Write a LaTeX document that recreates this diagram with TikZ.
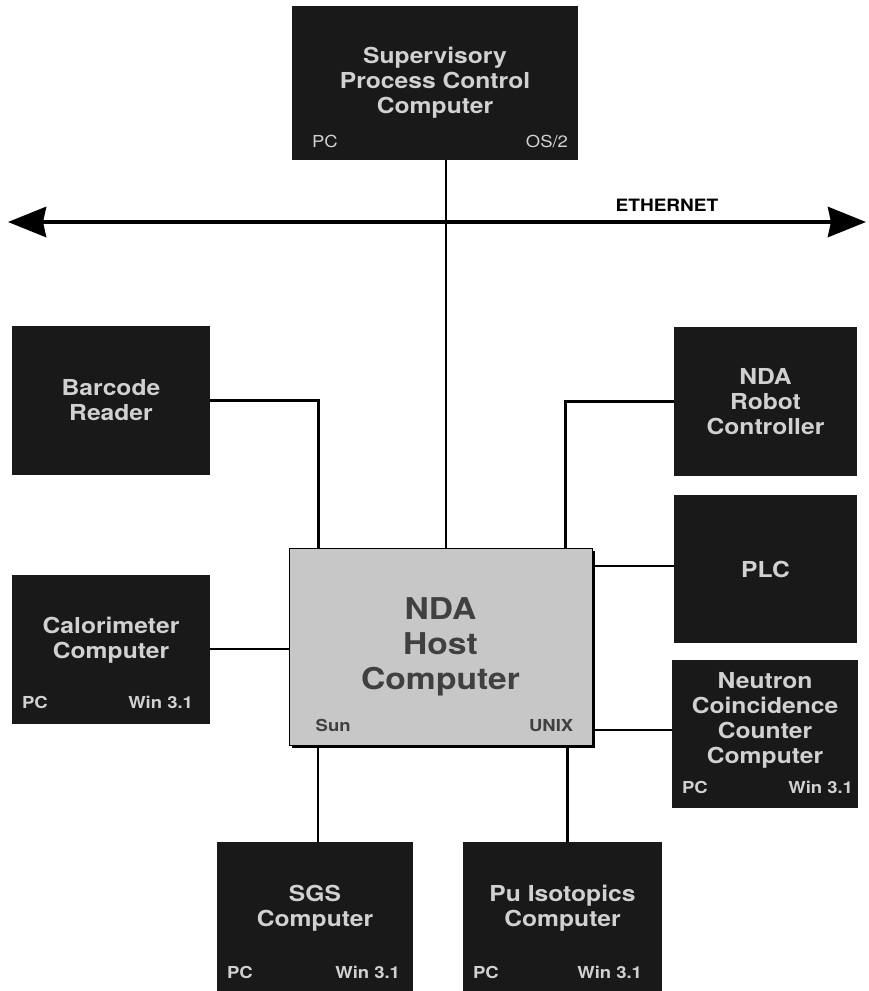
\documentclass[tikz,border=0pt]{standalone}
\usepackage{fontspec}
\setmainfont{TeX Gyre Heros}
\newfontfamily\boxfont[FakeStretch=1.12]{TeX Gyre Heros}
\usetikzlibrary{positioning,arrows.meta,shadows}
\tikzset{
unit/.style={
    rectangle,
    fill=black!90,
    text=white!82!black,
    font=\boxfont\bfseries\fontsize{22}{25}\selectfont,
    align=center,
    inner sep=0pt
},
boxtext/.style={
    text=white!82!black,
    font=\boxfont\bfseries\fontsize{22}{25}\selectfont,
    align=center,
    inner sep=0pt
},
host/.style={
    rectangle,
    draw=black,
    line width=1pt,
    fill=black!22,
    text=black!75,
    font=\boxfont\bfseries\fontsize{30}{35}\selectfont,
    align=center,
    inner sep=0pt,
    drop shadow={shadow xshift=3pt,shadow yshift=-3pt,fill=black,opacity=1}
},
tag/.style={
    font=\boxfont\bfseries\fontsize{16.5}{16.5}\selectfont,
    text=white!82!black,
    inner sep=0pt
},
pcwin/.style={
    label={[tag,anchor=base west,xshift=10pt,yshift=15pt]south west:PC},
    label={[tag,anchor=base east,xshift=-#1,yshift=15pt]south east:Win 3.1}
},
pcwin/.default=12pt,
link/.style={
    line width=2.4pt
},
bus/.style={
    {Stealth[length=38pt,width=30pt,inset=3pt]}-{Stealth[length=38pt,width=30pt,inset=3pt]},
    line width=4.5pt
}}

\begin{document}
\begin{tikzpicture}[x=1pt, y=-1pt]
\useasboundingbox (0,0) rectangle (868,991);

\node[unit, minimum width=286pt, minimum height=154pt,
      label={[tag,font=\boxfont\mdseries\fontsize{16.5}{16.5}\selectfont,anchor=base west,xshift=20pt,yshift=13pt]south west:PC},
      label={[tag,font=\boxfont\mdseries\fontsize{16.5}{16.5}\selectfont,anchor=base east,xshift=-10pt,yshift=13pt]south east:OS/2}]
      (sup)    at (435,83)    {Supervisory\\Process Control\\Computer};

% ethernet backbone
\coordinate (wl)  at (8,222);
\coordinate (wr)  at (866,222);
\coordinate (tap) at (446,222);
\draw[bus] (wl) -- (wr);
\node[font=\boxfont\bfseries\fontsize{17}{17}\selectfont, inner sep=0pt] (eth) at (667,205) {ETHERNET};

\node[host, minimum width=303pt, minimum height=197pt,
      label={[tag,text=black!75,anchor=base west,xshift=27pt,yshift=14pt]south west:Sun},
      label={[tag,text=black!75,anchor=base east,xshift=-19pt,yshift=14pt]south east:UNIX}]
      (host)   at (440.5,646.5)  {NDA\\Host\\Computer};

\node[unit, minimum width=198pt, minimum height=149pt] (bar)   at (111,400.5)   {Barcode\\Reader};
\node[unit, minimum width=183pt, minimum height=149pt] (robot) at (765.5,401.5) {NDA\\Robot\\Controller};
\node[unit, minimum width=183pt, minimum height=148pt] (plc)   at (765.5,569)   {PLC};

\node[unit, minimum width=198pt, minimum height=149pt, pcwin=17pt,
      label={[boxtext,yshift=9pt]center:Calorimeter\\Computer}]  (calo) at (111,649) {};
\node[unit, minimum width=186pt, minimum height=148pt, pcwin=5pt,
      label={[boxtext,yshift=14pt]center:Neutron\\Coincidence\\Counter\\Computer}]  (ncc) at (765,734) {};
\node[unit, minimum width=196pt, minimum height=151pt, pcwin=13pt,
      label={[boxtext,yshift=9pt]center:SGS\\Computer}]  (sgs) at (315,917.5) {};
\node[unit, minimum width=199pt, minimum height=151pt, pcwin=20pt,
      label={[boxtext,yshift=9pt]center:Pu Isotopics\\Computer}]  (pu) at (562.5,917.5) {};

% links to the host
\draw[link] (sup.south -| tap) -- (host.north -| tap);
\draw[link] (bar.east) -| ([xshift=-122pt]host.north);
\draw[link] (robot.west) -| ([xshift=125pt]host.north);
\draw[link] ([yshift=3pt]plc.west) -- ([yshift=3pt]plc.west -| host.east);
\draw[link] (calo.east) -- (calo.east -| host.west);
\draw[link] ([yshift=4pt]ncc.west) -- ([yshift=4pt]ncc.west -| host.east);
\draw[link] ([xshift=3pt]sgs.north) -- ([xshift=3pt]sgs.north |- host.south);
\draw[link] ([xshift=5pt]pu.north) -- ([xshift=5pt]pu.north |- host.south);
\end{tikzpicture}
\end{document}
